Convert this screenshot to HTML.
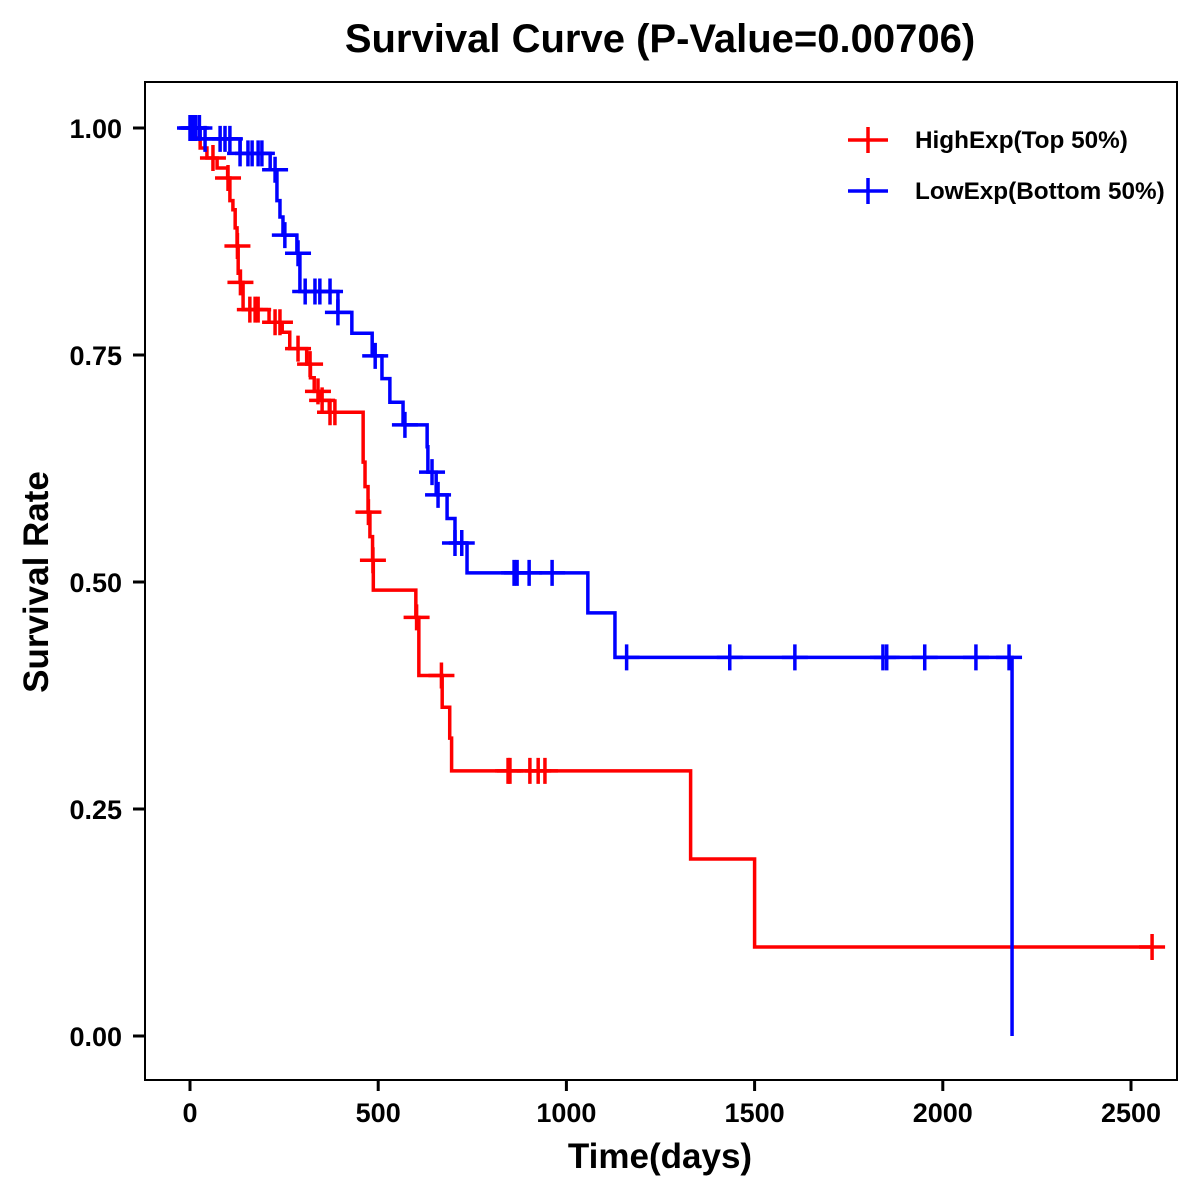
<!DOCTYPE html>
<html><head><meta charset="utf-8"><style>
html,body{margin:0;padding:0;background:#fff;}
svg{display:block;font-family:"Liberation Sans",Arial,sans-serif;font-weight:bold;}
</style></head><body>
<svg id="chart" width="1200" height="1200" viewBox="0 0 1200 1200">
<text x="660" y="52" text-anchor="middle" font-size="40">Survival Curve (P-Value=0.00706)</text>
<rect x="145" y="82" width="1032" height="998" fill="none" stroke="#000" stroke-width="2"/>
<g id="axes"></g>
<g id="series"></g>
<text x="660" y="1168" text-anchor="middle" font-size="35">Time(days)</text>
<text transform="translate(48,582) rotate(-90)" text-anchor="middle" font-size="35">Survival Rate</text>
<g>
<g>
<line x1="848" y1="140" x2="888" y2="140" stroke="#f00" stroke-width="3.5"/><line x1="868" y1="127" x2="868" y2="153" stroke="#f00" stroke-width="3.5"/>
<text x="915" y="148" font-size="24.3">HighExp(Top 50%)</text></g>
<g>
<line x1="848" y1="191" x2="888" y2="191" stroke="#00f" stroke-width="3.5"/><line x1="868" y1="178" x2="868" y2="204" stroke="#00f" stroke-width="3.5"/>
<text x="915" y="199" font-size="24.3">LowExp(Bottom 50%)</text></g>
</g>
</svg>
<script>
const xTicks = [0, 500, 1000, 1500, 2000, 2500];
const yTicks = [0, 0.25, 0.5, 0.75, 1.0];
const yTickLabels = ["0.00", "0.25", "0.50", "0.75", "1.00"];
const highEventTimes = [13,27,45,72,100,106,114,120,125,128,133,141,210,245,265,310,320,330,345,370,460,465,473,478,485,487,600,608,670,690,695,1330,1500];
const highEventSurv = [0.989,0.978,0.967,0.956,0.945,0.92,0.91,0.89,0.87,0.84,0.83,0.80,0.786,0.775,0.757,0.74,0.725,0.71,0.70,0.687,0.632,0.605,0.577,0.55,0.524,0.491,0.461,0.397,0.362,0.328,0.292,0.195,0.098];
const highCensor = [61,101,126,134,159,173,181,226,239,287,319,340,351,372,385,474,486,602,668,845,850,903,925,943,2556];
const lowEventTimes = [27,133,213,231,239,247,284,292,393,430,484,510,531,566,630,632,654,683,704,736,1057,1129,2184];
const lowEventSurv = [0.988,0.972,0.954,0.92,0.902,0.882,0.862,0.82,0.797,0.774,0.749,0.724,0.698,0.673,0.649,0.621,0.596,0.570,0.543,0.510,0.466,0.417,0.0];
const lowCensor = [0,5,10,15,25,40,80,93,106,133,154,165,181,191,226,252,287,306,332,345,372,393,492,571,643,659,704,722,861,869,901,962,1160,1434,1607,1841,1851,1952,2088,2176];

const NS = "http://www.w3.org/2000/svg";
const xS = t => 190 + t * (941 / 2500);
const yS = s => 1036 - s * 908;
function mk(tag, attrs, parent){const e=document.createElementNS(NS,tag);for(const k in attrs)e.setAttribute(k,attrs[k]);parent.appendChild(e);return e;}
const axes = document.getElementById('axes');
xTicks.forEach(v=>{
  const g = mk('g',{},axes);
  
  
  mk('line',{x1:xS(v),x2:xS(v),y1:1080,y2:1091,stroke:'#000','stroke-width':3},g);
  const t = mk('text',{x:xS(v),y:1122,'text-anchor':'middle','font-size':27},g); t.textContent=v;
});
yTicks.forEach((v,i)=>{
  const g = mk('g',{},axes);
  
  
  mk('line',{x1:133,x2:145,y1:yS(v),y2:yS(v),stroke:'#000','stroke-width':3},g);
  const t = mk('text',{x:122,y:yS(v)+10,'text-anchor':'end','font-size':27},g); t.textContent=yTickLabels[i];
});
function survAt(times, surv, t){let s=1;for(let i=0;i<times.length;i++){if(times[i]<=t)s=surv[i];}return s;}
function drawSeries(name, times, surv, cens, color, endT){
  const g = mk('g',{},document.getElementById('series'));
  
  
  let d = 'M'+xS(0)+','+yS(1);
  times.forEach((t,i)=>{d+=' H'+xS(t)+' V'+yS(surv[i]);});
  d += ' H'+xS(endT);
  const p = mk('path',{d:d,fill:'none',stroke:color,'stroke-width':3.5},g);
  
  
  cens.forEach(t=>{
    const s = survAt(times,surv,t);
    const c = mk('path',{d:'M'+(xS(t)-13)+','+yS(s)+' h26 M'+xS(t)+','+(yS(s)-13)+' v26',stroke:color,'stroke-width':3.5,fill:'none'},g);
    
    
  });
}
drawSeries('high-exp', highEventTimes, highEventSurv, highCensor, '#f00', 2556);
drawSeries('low-exp', lowEventTimes, lowEventSurv, lowCensor, '#00f', 2184);
</script>
</body></html>
